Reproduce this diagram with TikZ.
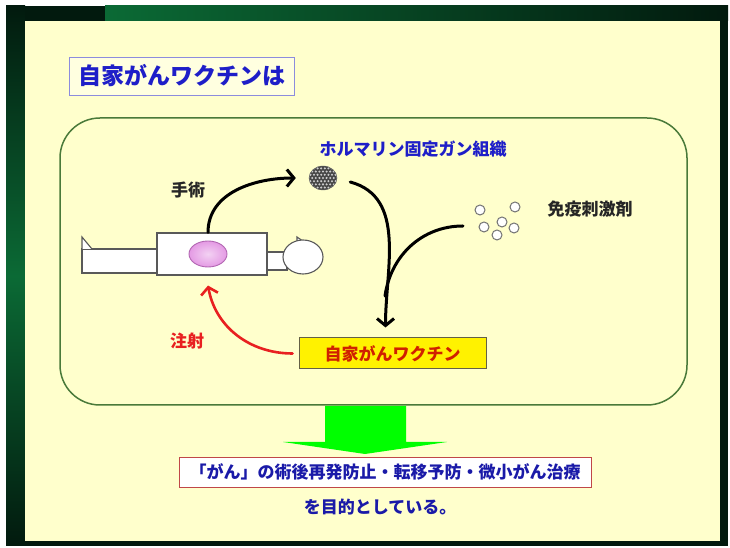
\documentclass[tikz,border=0pt]{standalone}
\usepackage{fontspec}
\newfontfamily\jp{Noto Sans CJK JP}
\usetikzlibrary{arrows.meta,shapes.geometric}

\definecolor{cream}{HTML}{FFFFCC}
\definecolor{framedark}{HTML}{021A0E}
\definecolor{framegreen}{HTML}{0B6A35}
\definecolor{panelline}{HTML}{4A7A3A}
\definecolor{titleblue}{HTML}{1E1EC8}
\definecolor{textblue}{HTML}{1A1AA8}
\definecolor{injred}{HTML}{E82020}
\definecolor{vacred}{HTML}{D02000}
\definecolor{goalline}{HTML}{C04848}
\definecolor{tumorpink}{HTML}{E49AE4}

\tikzset{
    caption/.style = {
        font=\jp\bfseries\fontsize{17}{20}\selectfont,
        text=black!85
    },
    outline/.style = {
        draw=black!65,
        fill=white,
        line width=1.1pt
    },
    flow/.style = {
        line width=3pt,
        line cap=round,
        -{Straight Barb[length=7pt,width=17pt]}
    },
    pellet/.style = {
        circle,
        draw=black!55,
        fill=white,
        line width=1pt,
        minimum size=10pt,
        inner sep=0pt
    },
    tissue/.style = {
        ellipse,
        draw=black!60,
        fill=black!72,
        minimum width=28pt,
        minimum height=24pt,
        inner sep=0pt,
        path picture={
            \foreach \i in {-4,...,4}
                \foreach \j in {-3,...,3} {
                    \pgfmathsetmacro\dotx{\i*3.6+mod(\j,2)*1.8}
                    \fill[black!20] ([shift={(\dotx pt,\j*3.2pt)}]path picture bounding box.center) circle (1.15pt);
                }
        }
    }
}

\begin{document}
\begin{tikzpicture}[x=1pt,y=1pt]
    \useasboundingbox (0,0) rectangle (730,548);

    % Frame and slide
    \fill[white] (0,0) rectangle (730,548);
    \fill[framedark] (6,2) rectangle (728,542);
    \shade[top color=framedark, bottom color=framedark, middle color=framegreen] (6,2) rectangle (25,542);
    \shade[left color=framegreen, right color=framedark] (105,527) rectangle (728,542);
    \fill[cream] (25,7) rectangle (720,527);

    % Title
    \node[draw=black!30!blue!45, fill=cream!60!white, line width=0.9pt, minimum width=225pt, minimum height=38pt,
          font=\jp\bfseries\fontsize{23}{27}\selectfont, text=titleblue] (title) at (181.5,472) {自家がんワクチンは};

    % Process panel
    \draw[panelline, line width=1.5pt, rounded corners=40pt] (60,143) rectangle (687,430);

    % Patient lying on the table
    \draw[outline] (82,275) rectangle (157,299);
    \draw[outline] (82,299) -- (82,311) -- (92,299);
    \draw[outline] (267,278) rectangle (287,296);
    \draw[outline] (297,296) -- (297,311) -- (310,302);
    \node[outline, ellipse, minimum width=40pt, minimum height=34pt, inner sep=0pt] (head) at (303,291) {};
    \node[outline, minimum width=110pt, minimum height=42pt] (torso) at (212,294) {};
    \node[ellipse, draw=violet!60, line width=0.9pt, inner color=tumorpink!45, outer color=tumorpink,
          minimum width=38pt, minimum height=26pt] (tumor) at (208,294) {};

    % Fixed tissue and immune stimulant
    \node[tissue] (tissue) at (323,370) {};
    \node[caption, text=titleblue] (tissuelabel) at (413,399) {ホルマリン固定ガン組織};
    \node[pellet] (p1) at (480,338) {};
    \node[pellet] (p2) at (515,341) {};
    \node[pellet] (p3) at (502,326) {};
    \node[pellet] (p4) at (484,321) {};
    \node[pellet] (p5) at (514,320) {};
    \node[pellet] (p6) at (497,313) {};
    \node[caption] (stimlabel) at (590,339) {免疫刺激剤};
    \coordinate (stim) at (463,322);
    \coordinate (merge) at (385,252);

    % Vaccine
    \node[draw=black!70!yellow, fill=yellow, line width=1pt, minimum width=187pt, minimum height=31pt,
          font=\jp\bfseries\fontsize{17}{20}\selectfont, text=vacred] (vaccine) at (392.5,194.5) {自家がんワクチン};

    % Draw arrows
    \draw[flow] (tumor |- torso.north) to[out=90,in=180] ([xshift=-13pt]tissue.west);
    \node[caption] (surgery) at (188,358) {手術};
    \draw[flow] ([xshift=13pt,yshift=-4pt]tissue.east) to[out=-15,in=90] ([xshift=-7pt,yshift=10pt]vaccine.north);
    \draw[line width=3pt, line cap=round] (stim) to[out=180,in=82] (merge);
    \draw[flow, injred, line width=2.6pt] ([xshift=-6pt]vaccine.west) to[out=180,in=-80] ([yshift=-10pt]tumor |- torso.south);
    \node[caption, text=injred] (injection) at (187,207) {注射};

    % Result
    \fill[green] (325,142) -- (406,142) -- (406,106) -- (447,106) -- (365,94) -- (283,106) -- (325,106) -- cycle;
    \node[draw=goalline, fill=white, line width=0.9pt, minimum width=412pt, minimum height=30pt,
          font=\jp\bfseries\fontsize{17}{20}\selectfont, text=textblue] (goal) at (385,76) {「がん」の術後再発防止・転移予防・微小がん治療};
    \node[caption, text=textblue] (purpose) at (380,41) {を目的としている。};
\end{tikzpicture}
\end{document}
